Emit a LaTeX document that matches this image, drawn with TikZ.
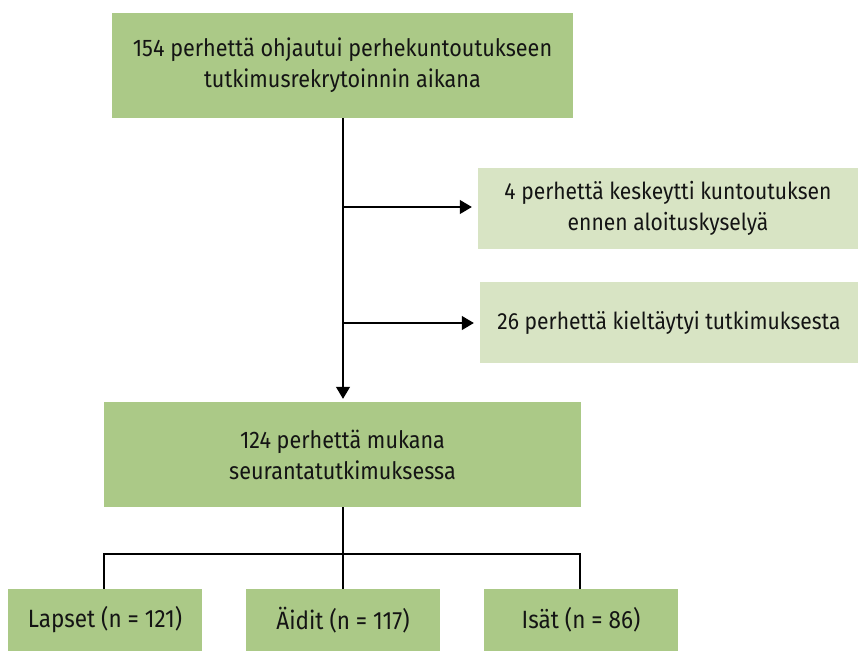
\documentclass[tikz,border=0pt]{standalone}
\usepackage{fontspec}
\setmainfont[FakeStretch=0.90]{Fira Sans}
\usetikzlibrary{arrows.meta}
\definecolor{dkgreen}{HTML}{ABC987}
\definecolor{ltgreen}{HTML}{D8E4C4}
\definecolor{txt}{HTML}{141414}
\begin{document}
\begin{tikzpicture}[x=1pt,y=-1pt,
  box/.style={fill=dkgreen,draw=none,inner sep=0pt,align=center,text=txt,
    font=\fontsize{24}{31}\selectfont},
  lbox/.style={box,fill=ltgreen,font=\fontsize{23.4}{31}\selectfont},
  sbox/.style={box,minimum width=194pt,minimum height=62pt,font=\fontsize{25}{31}\selectfont},
  conn/.style={line width=1.2pt,draw=black},
  arr/.style={conn,-{Triangle[length=12pt,width=14pt]}}]
\useasboundingbox (0,0) rectangle (858,651);
\node[box,minimum width=461pt,minimum height=105pt] (b1) at (342.5,65.5)
  {154 perhettä ohjautui perhekuntoutukseen\\tutkimusrekrytoinnin aikana};
\node[lbox,minimum width=380pt,minimum height=81pt] (b2) at (668,208.5)
  {4 perhettä keskeytti kuntoutuksen\\ennen aloituskyselyä};
\node[lbox,minimum width=378pt,minimum height=81pt] (b3) at (669,322.5)
  {26 perhettä kieltäytyi tutkimuksesta};
\node[box,minimum width=477pt,minimum height=105pt] (b4) at (342.5,454.5)
  {124 perhettä mukana\\seurantatutkimuksessa};
\node[sbox] (bl) at (105,620) {Lapset (n = 121)};
\node[sbox] (ba) at (343,620) {Äidit (n = 117)};
\node[sbox] (bi) at (581,620) {Isät (n = 86)};
\coordinate (j1) at (343,207);
\coordinate (j2) at (343,323);
\coordinate (t) at (343,554);
\draw[arr,shorten >=3pt] (t |- b1.south) -- (t |- b4.north);
\draw[arr,shorten >=6pt] (j1) -- (j1 -| b2.west);
\draw[arr,shorten >=6pt] (j2) -- (j2 -| b3.west);
\draw[conn] (t |- b4.south) -- (ba.north);
\draw[conn] ([xshift=-1pt]bl.north) -- ([xshift=-1pt]bl.north |- t) -- ([xshift=-1pt]bi.north |- t) -- ([xshift=-1pt]bi.north);
\end{tikzpicture}
\end{document}
